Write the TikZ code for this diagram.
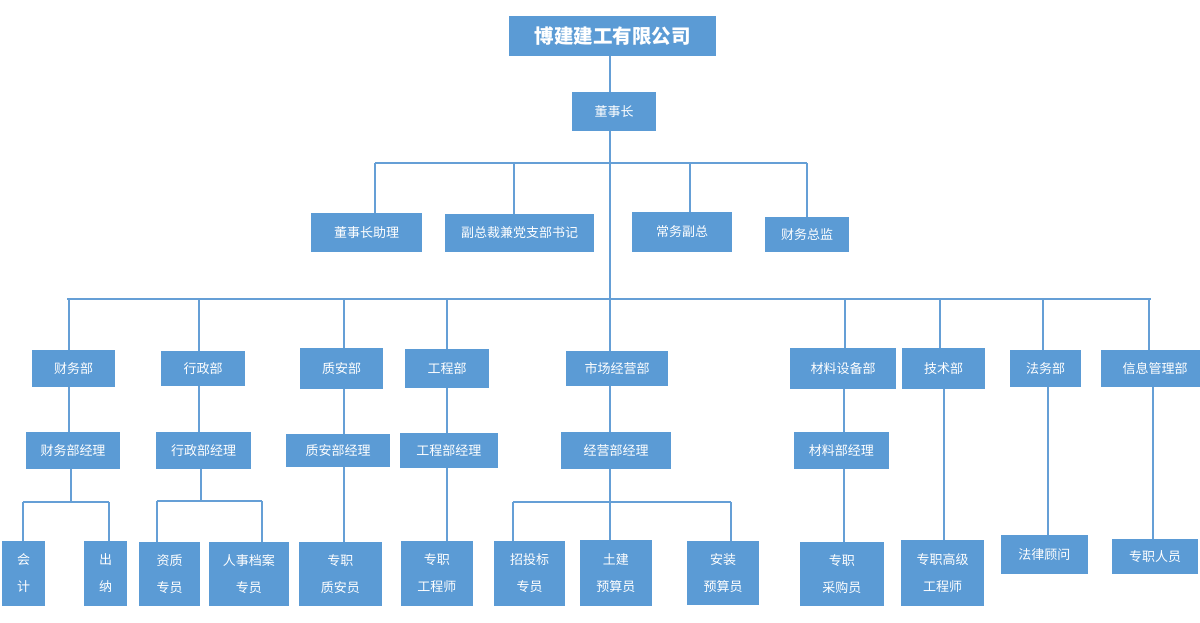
\documentclass[tikz,border=0pt]{standalone}
\usepackage{fontspec}
\newfontfamily\cjk{Noto Sans CJK SC}
\definecolor{boxblue}{HTML}{5B9BD5}
\definecolor{lineblue}{HTML}{659FD6}
\tikzset{
  box/.style={fill=boxblue, text=white, inner sep=0pt, align=center, anchor=center,
    font=\cjk\fontsize{13}{27}\selectfont},
  link/.style={draw=lineblue, line width=2pt}
}
\newcommand{\bx}[6]{\node[box, minimum width=#3pt, minimum height=#4pt] (#1) at (#2) {#6};}
\begin{document}
\begin{tikzpicture}[x=1pt,y=-1pt]
\useasboundingbox (0,0) rectangle (1200,623);
\fill[white] (0,0) rectangle (1200,623);

% level 0/1
\node[box, minimum width=207pt, minimum height=40pt, font=\cjk\bfseries\fontsize{19.5}{22}\selectfont] (title) at (612.5,36) {博建建工有限公司};
\bx{dsz}{614,111.5}{84}{39}{}{董事长}
\bx{zl}{366.5,232.5}{111}{39}{}{董事长助理}
\bx{fz}{519.5,233}{149}{38}{}{副总裁兼党支部书记}
\bx{cw}{682,232}{100}{40}{}{常务副总}
\bx{cj}{807,234.5}{84}{35}{}{\raisebox{-2pt}{财务总监}}

% level 2 departments
\bx{cwb}{73.5,368.5}{83}{37}{}{财务部}
\bx{xzb}{203,368.5}{84}{35}{}{行政部}
\bx{zab}{341.5,368.5}{83}{41}{}{质安部}
\bx{gcb}{447,368.5}{84}{39}{}{工程部}
\bx{scb}{617,368.5}{102}{35}{}{市场经营部}
\bx{clb}{843,368.5}{106}{41}{}{材料设备部}
\bx{jsb}{943.5,368.5}{83}{41}{}{技术部}
\bx{fwb}{1045.5,368.5}{71}{37}{}{法务部}
\bx{xxb}{1150.5,368.5}{99}{37}{}{\hspace*{9pt}信息管理部}

% level 3 managers
\bx{cwj}{73,450.5}{94.5}{37}{}{财务部经理}
\bx{xzj}{203.5,450.5}{95}{37}{}{行政部经理}
\bx{zaj}{338,450.5}{104}{33}{}{\raisebox{-3pt}{质安部经理}}
\bx{gcj}{448.75,450.5}{97.5}{35}{}{工程部经理}
\bx{jyj}{616,450.5}{110}{37}{}{经营部经理}
\bx{clj}{841.3,450.5}{94.6}{37}{}{材料部经理}

% level 4 staff
\bx{kj}{23.5,573.5}{43}{65}{}{会\\计}
\bx{cn}{105.5,573.5}{43}{65}{}{出\\纳}
\bx{zz}{169.5,574}{61}{64}{}{资质\\专员}
\bx{rs}{248.8,574}{79.6}{64}{}{人事档案\\专员}
\bx{zay}{340.25,574}{82.5}{64}{}{专职\\质安员}
\bx{gcs}{436.8,573.5}{71.6}{65}{}{专职\\工程师}
\bx{ztb}{529.5,573.5}{71}{65}{}{招投标\\专员}
\bx{tj}{615.85,573}{71.7}{66}{}{土建\\预算员}
\bx{az}{723,573}{72}{64}{}{安装\\预算员}
\bx{cgy}{841.8,574}{83.6}{64}{}{专职\\采购员}
\bx{gjgcs}{942.5,573}{83}{66}{}{专职高级\\工程师}
\bx{flgw}{1044.3,554.5}{86.6}{39}{}{法律顾问}
\bx{zzry}{1155,556.5}{86}{35}{}{专职人员}

% junction and drop coordinates
\coordinate (m1) at (610,163);
\coordinate (m2) at (610,299);
\coordinate (a1) at (375,163);
\coordinate (a2) at (514,163);
\coordinate (a3) at (690,163);
\coordinate (a4) at (807,163);
\coordinate (b0) at (67,299);
\coordinate (b1) at (69,299);
\coordinate (b2) at (199,299);
\coordinate (b3) at (344,299);
\coordinate (b4) at (447,299);
\coordinate (b6) at (845,299);
\coordinate (b7) at (940,299);
\coordinate (b8) at (1043,299);
\coordinate (b9) at (1149,299);
\coordinate (b10) at (1151,299);
\coordinate (c1) at (23,502);
\coordinate (c2) at (109,502);
\coordinate (c0) at (71,502);
\coordinate (d1) at (157,501);
\coordinate (d2) at (262,501);
\coordinate (d0) at (201,501);
\coordinate (e1) at (513,502);
\coordinate (e2) at (731,502);
\coordinate (e0) at (610,502);
\coordinate (v1) at (69,0);
\coordinate (v2) at (199,0);
\coordinate (v3) at (344,0);
\coordinate (v4) at (447,0);
\coordinate (v6) at (844,0);
\coordinate (v7) at (944,0);
\coordinate (v8) at (1048,0);
\coordinate (v9) at (1153,0);

% top spine
\draw[link] (title.south -| m1) -- (dsz.north -| m1);
\draw[link] (dsz.south -| m1) -- (m2);
\draw[link] (a1) -- (a4);
\draw[link] (a1) -- (a1 |- zl.north);
\draw[link] (a2) -- (a2 |- fz.north);
\draw[link] (a3) -- (a3 |- cw.north);
\draw[link] (a4) -- (a4 |- cj.north);

% department bus
\draw[link] (b0) -- (b10);
\draw[link] (b1) -- (b1 |- cwb.north);
\draw[link] (b2) -- (b2 |- xzb.north);
\draw[link] (b3) -- (b3 |- zab.north);
\draw[link] (b4) -- (b4 |- gcb.north);
\draw[link] (m2) -- (m2 |- scb.north);
\draw[link] (b6) -- (b6 |- clb.north);
\draw[link] (b7) -- (b7 |- jsb.north);
\draw[link] (b8) -- (b8 |- fwb.north);
\draw[link] (b9) -- (b9 |- xxb.north);

% department to manager
\draw[link] (cwb.south -| v1) -- (cwj.north -| v1);
\draw[link] (xzb.south -| v2) -- (xzj.north -| v2);
\draw[link] (zab.south -| v3) -- (zaj.north -| v3);
\draw[link] (gcb.south -| v4) -- (gcj.north -| v4);
\draw[link] (scb.south -| m2) -- (jyj.north -| m2);
\draw[link] (clb.south -| v6) -- (clj.north -| v6);

% finance group
\draw[link] (cwj.south -| c0) -- (c0);
\draw[link] (c1) -- (c2);
\draw[link] (c1) -- (c1 |- kj.north);
\draw[link] (c2) -- (c2 |- cn.north);

% admin group
\draw[link] (xzj.south -| d0) -- (d0);
\draw[link] (d1) -- (d2);
\draw[link] (d1) -- (d1 |- zz.north);
\draw[link] (d2) -- (d2 |- rs.north);

% quality, engineering, material
\draw[link] (zaj.south -| v3) -- (zay.north -| v3);
\draw[link] (gcj.south -| v4) -- (gcs.north -| v4);
\draw[link] (clj.south -| v6) -- (cgy.north -| v6);

% business group
\draw[link] (jyj.south -| e0) -- (tj.north -| e0);
\draw[link] (e1) -- (e2);
\draw[link] (e1) -- (e1 |- ztb.north);
\draw[link] (e2) -- (e2 |- az.north);

% direct lines
\draw[link] (jsb.south -| v7) -- (gjgcs.north -| v7);
\draw[link] (fwb.south -| v8) -- (flgw.north -| v8);
\draw[link] (xxb.south -| v9) -- (zzry.north -| v9);
\end{tikzpicture}
\end{document}
